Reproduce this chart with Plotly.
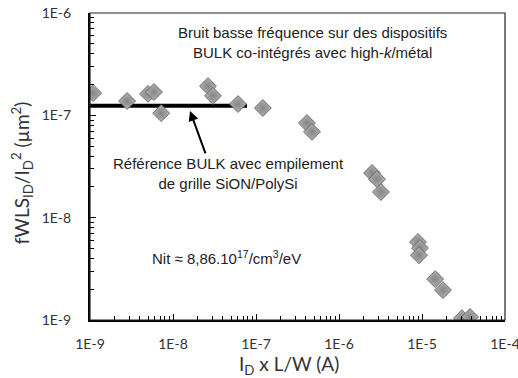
import plotly.graph_objects as go

# Data
x_vals = [1.09e-9, 2.8e-9, 5.0e-9, 5.9e-9, 7.2e-9, 2.64e-8, 3.03e-8, 6.07e-8, 1.21e-7,
          4.11e-7, 4.73e-7, 2.5e-6, 2.87e-6, 3.2e-6, 8.95e-6, 9.46e-6, 9.2e-6,
          1.44e-5, 1.79e-5, 3.03e-5, 3.79e-5]
y_vals = [1.65e-7, 1.38e-7, 1.62e-7, 1.69e-7, 1.05e-7, 1.93e-7, 1.55e-7, 1.29e-7, 1.18e-7,
          8.4e-8, 6.9e-8, 2.73e-8, 2.38e-8, 1.78e-8, 5.78e-9, 5.05e-9, 4.3e-9,
          2.51e-9, 1.96e-9, 1.04e-9, 1.07e-9]
ref_x = [1e-9, 7.8e-8]
ref_y = [1.24e-7, 1.24e-7]

x_tickvals = [1e-9, 1e-8, 1e-7, 1e-6, 1e-5, 1e-4]
x_ticktext = ["1E-9", "1E-8", "1E-7", "1E-6", "1E-5", "1E-4"]
y_tickvals = [1e-9, 1e-8, 1e-7, 1e-6]
y_ticktext = ["1E-9", "1E-8", "1E-7", "1E-6"]

x_minor = [k * 10.0 ** e for e in range(-9, -4) for k in range(2, 10)]
y_minor = [k * 10.0 ** e for e in range(-9, -6) for k in range(2, 10)]

fig = go.Figure()
fig.add_trace(go.Scatter(x=ref_x, y=ref_y, mode="lines",
                         line=dict(color="black", width=4), showlegend=False,
                         hoverinfo="skip"))
fig.add_trace(go.Scatter(x=x_vals, y=y_vals, mode="markers", showlegend=False,
                         marker=dict(symbol="diamond", size=13, color="#b0b0b0",
                                     gradient=dict(type="radial", color="#858585"),
                                     line=dict(color="#6e6e6e", width=1))))

tickfont = dict(family="Lato, Open Sans, sans-serif", size=14, color="#333")
fig.update_xaxes(type="log", range=[-9, -4], tickmode="array", tickvals=x_tickvals,
                 ticktext=x_ticktext, ticks="inside", ticklen=6, tickwidth=1,
                 tickcolor="black", showline=True, linecolor="black", linewidth=2,
                 showgrid=False, zeroline=False, tickfont=tickfont, automargin=False,
                 ticklabelstandoff=10, ticklabeloverflow="allow",
                 minor=dict(tickvals=x_minor, ticks="inside", ticklen=4,
                            tickcolor="black", showgrid=False))
fig.update_yaxes(type="log", range=[-9, -6], tickmode="array", tickvals=y_tickvals,
                 ticktext=y_ticktext, ticks="inside", ticklen=6, tickwidth=1,
                 tickcolor="black", showline=True, linecolor="black", linewidth=2,
                 showgrid=False, zeroline=False, tickfont=tickfont, automargin=False,
                 ticklabelstandoff=14, ticklabeloverflow="allow",
                 minor=dict(tickvals=y_minor, ticks="inside", ticklen=4,
                            tickcolor="black", showgrid=False))

fig.add_shape(type="rect", xref="paper", yref="paper", x0=0, y0=0, x1=1, y1=1,
              line=dict(color="#222", width=1.2))

txtfont = dict(family="Liberation Sans, Arial, sans-serif", size=15, color="#222")
fig.add_annotation(xref="paper", yref="paper", x=0.537, y=0.9055, showarrow=False,
                   xanchor="center", yanchor="middle",
                   text="Bruit basse fréquence sur des dispositifs<br>BULK co-intégrés avec high-<i>k</i>/métal",
                   font=txtfont, align="center")
fig.add_annotation(xref="paper", yref="paper", x=0.333, y=0.477, showarrow=False,
                   xanchor="center", yanchor="middle",
                   text="Référence BULK avec empilement<br>de grille SiON/PolySi",
                   font=txtfont, align="center")
fig.add_annotation(xref="paper", yref="paper", x=0.328, y=0.202, showarrow=False,
                   xanchor="center", yanchor="middle",
                   text="Nit ≈ 8,86.10<sup>17</sup>/cm<sup>3</sup>/eV",
                   font=txtfont, align="center")
fig.add_annotation(xref="paper", yref="paper", x=0.241, y=0.681, ax=16, ay=44,
                   showarrow=True, arrowhead=2, arrowsize=1, arrowwidth=2,
                   arrowcolor="black", text="")

titlefont = dict(family="Lato, Open Sans, sans-serif", size=19, color="#333")
fig.add_annotation(xref="paper", yref="paper", x=-0.164, y=0.48, showarrow=False,
                   xanchor="center", yanchor="middle", textangle=-90,
                   text="fWLS<sub>ID</sub>/I<sub>D</sub><sup>2</sup> (µm<sup>2</sup>)",
                   font=titlefont)
fig.add_annotation(xref="paper", yref="paper", x=0.48, y=-0.145, showarrow=False,
                   xanchor="center", yanchor="middle",
                   text="I<sub>D</sub> x L/W (A)", font=titlefont)

fig.update_layout(width=518, height=378, margin=dict(l=90, r=13, t=13, b=58),
                  plot_bgcolor="white", paper_bgcolor="white")

fig.write_html("out.html", config={"displayModeBar": False},
               post_script="document.body.style.margin='0';document.body.style.overflow='hidden';")
